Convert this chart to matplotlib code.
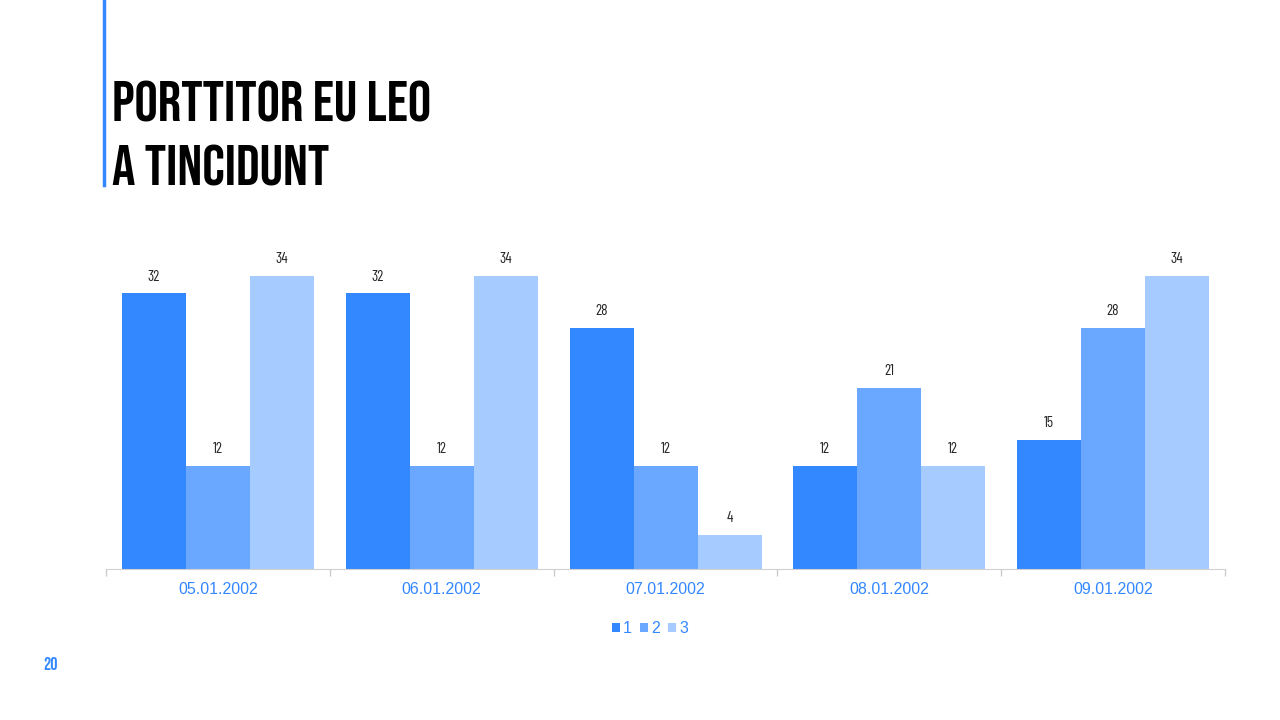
import numpy as np
import matplotlib.pyplot as plt

dates = ["05.01.2002", "06.01.2002", "07.01.2002", "08.01.2002", "09.01.2002"]
series_names = ["1", "2", "3"]
values_1 = [32, 32, 28, 12, 15]
values_2 = [12, 12, 12, 21, 28]
values_3 = [34, 34, 4, 12, 34]
title_lines = ["PORTTITOR EU LEO", "A TINCIDUNT"]
page_no = "20"

colors = ["#3388FF", "#6AA8FF", "#A6CBFF"]
blue = "#3388FF"
display = ["Bebas Neue", "DejaVu Sans"]
thin = ["Barlow Condensed", "DejaVu Sans"]
body = ["Liberation Sans", "DejaVu Sans"]

fig = plt.figure(figsize=(12.8, 7.2), dpi=100)
ax = fig.add_axes([106 / 1280, 151 / 720, 1119 / 1280, 345 / 720])

x = np.arange(len(dates))
w = 64 / 223.8
all_vals = [values_1, values_2, values_3]
for i, vals in enumerate(all_vals):
    pos = x + (i - 1) * w
    ax.bar(pos, vals, width=w, color=colors[i], label=series_names[i])
    for px, v in zip(pos, vals):
        ax.text(px, v + 1.1, str(v), ha="center", va="bottom",
                fontsize=11, fontweight="normal", color="#262626", family=thin)

ax.set_xlim(-0.5, len(dates) - 0.5)
ax.set_ylim(0, 40)
ax.set_xticks(x)
ax.set_xticklabels(dates, color=blue, fontsize=11.5, family=body)
ax.tick_params(axis="x", which="major", length=0, pad=9)
ax.set_xticks(np.arange(-0.5, len(dates), 1.0), minor=True)
ax.tick_params(axis="x", which="minor", length=5, color="#cccccc", width=1)
ax.set_yticks([])
for s in ["top", "right", "left"]:
    ax.spines[s].set_visible(False)
ax.spines["bottom"].set_color("#d0d0d0")

leg = ax.legend(loc="upper center", bbox_to_anchor=(0.486, -0.11), ncol=3, frameon=False,
                handlelength=0.5, handleheight=0.5, handletextpad=0.2, columnspacing=0.5,
                prop={"family": body, "size": 11.5})
for t in leg.get_texts():
    t.set_color(blue)

# title and accent bar
fig.add_artist(plt.Line2D([104 / 1280, 104 / 1280], [1.0, 1 - 185 / 720],
                          color=blue, linewidth=2.5, transform=fig.transFigure))
fig.text(112 / 1280, 1 - 122 / 720, title_lines[0], ha="left", va="baseline",
         fontsize=42, family=display, color="black")
fig.text(112 / 1280, 1 - 185 / 720, title_lines[1], ha="left", va="baseline",
         fontsize=42, family=display, color="black")
fig.text(50 / 1280, 1 - 663 / 720, page_no, ha="center", va="center",
         fontsize=13, fontweight="bold", family=display, color=blue)

fig.savefig("out.png", dpi=100)
